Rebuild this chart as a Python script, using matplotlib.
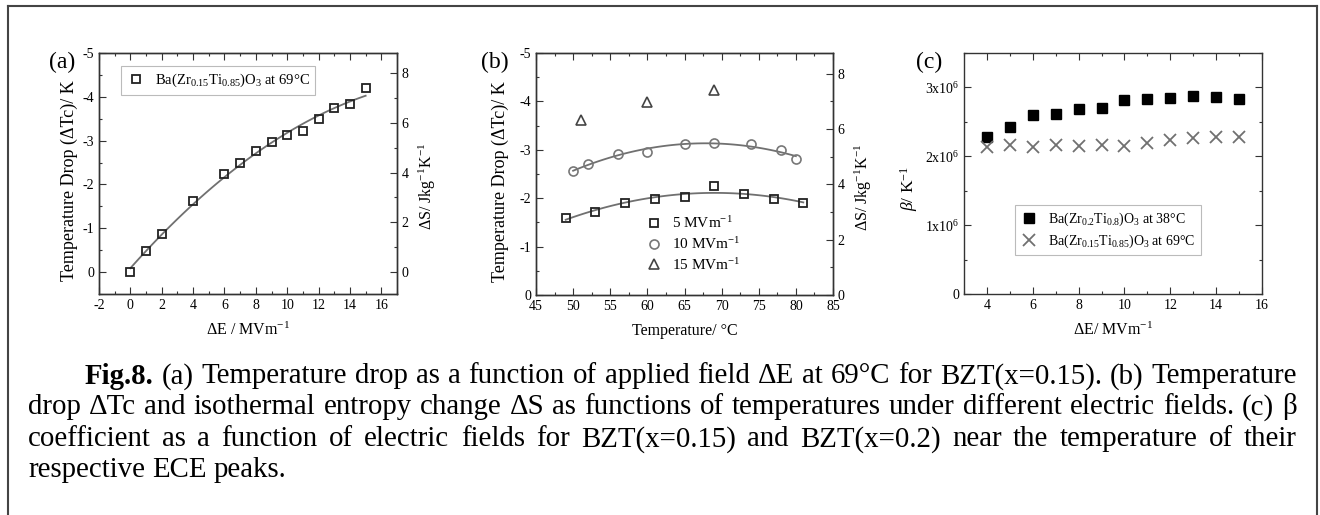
import numpy as np
import matplotlib
matplotlib.use('Agg')
import matplotlib.pyplot as plt
from matplotlib.lines import Line2D
from matplotlib.ticker import MultipleLocator, FuncFormatter

plt.rcParams['font.family'] = ['Liberation Serif', 'DejaVu Serif']
plt.rcParams['mathtext.fontset'] = 'custom'
plt.rcParams['mathtext.rm'] = 'Liberation Serif'
plt.rcParams['mathtext.it'] = 'Liberation Serif:italic'
plt.rcParams['mathtext.bf'] = 'Liberation Serif:bold'
plt.rcParams['axes.unicode_minus'] = False

# (a) temperature drop vs field at 69 C
E_a = [0, 1, 2, 4, 6, 7, 8, 9, 10, 11, 12, 13, 14, 15]
dT_a = [0, -0.48, -0.88, -1.63, -2.24, -2.49, -2.76, -2.96, -3.13, -3.21, -3.49, -3.75, -3.84, -4.19]

# (b) temperature drop vs temperature
T_5 = [49, 53, 57, 61, 65, 69, 73, 77, 81]
dT_5 = [-1.60, -1.71, -1.91, -1.98, -2.02, -2.26, -2.09, -1.98, -1.91]
T_10 = [50, 52, 56, 60, 65, 69, 74, 78, 80]
dT_10 = [-2.56, -2.71, -2.91, -2.96, -3.11, -3.14, -3.11, -2.99, -2.81]
T_15 = [51, 60, 69]
dT_15 = [-3.62, -3.98, -4.23]

# (c) beta coefficient (x1e6)
E_c = [4, 5, 6, 7, 8, 9, 10, 11, 12, 13, 14, 15]
beta_20 = [2.285, 2.42, 2.60, 2.61, 2.68, 2.70, 2.815, 2.825, 2.85, 2.88, 2.86, 2.83]
beta_15 = [2.13, 2.17, 2.14, 2.16, 2.15, 2.16, 2.15, 2.20, 2.24, 2.27, 2.28, 2.285]

W, H = 1320, 515
fig = plt.figure(figsize=(13.2, 5.15), dpi=100)

def rect(l, r, t, b):
    return [l / W, 1 - b / H, (r - l) / W, (b - t) / H]

spine_c = '#333333'
fit_c = '#707070'
tick_fs = 10

def style(ax):
    for s in ax.spines.values():
        s.set_color(spine_c)
        s.set_linewidth(1.0)
    ax.tick_params(which='both', direction='in', colors=spine_c, labelcolor='black',
                   labelsize=tick_fs, width=0.8)
    ax.tick_params(which='major', length=5)
    ax.tick_params(which='minor', length=2.5)

# ---------- (a) ----------
ax = fig.add_axes(rect(99, 397, 53, 294))
ax.plot(E_a, dT_a, 's', mfc='none', mec='#222222', mew=1.3, ms=6, ls='none',
        label='Ba(Zr$_{0.15}$Ti$_{0.85}$)O$_3$ at 69°C', zorder=3)
p = np.polyfit(E_a, dT_a, 2)
xf = np.linspace(min(E_a), max(E_a), 100)
ax.plot(xf, np.polyval(p, xf), color=fit_c, lw=1.3)
ax.set_xlim(-2, 17)
ax.set_ylim(0.5, -5)
ax.xaxis.set_major_locator(MultipleLocator(2))
ax.xaxis.set_minor_locator(MultipleLocator(1))
ax.yaxis.set_major_locator(MultipleLocator(1))
ax.yaxis.set_minor_locator(MultipleLocator(0.5))
ax.tick_params(which='both', top=True, right=False)
style(ax)
ax.set_xlabel('ΔE / MVm$^{-1}$', fontsize=11.5, labelpad=7)
ax.set_ylabel('Temperature Drop (ΔTc)/ K', fontsize=13)
ax.yaxis.set_label_coords(-0.072, 0.47)
leg = ax.legend(loc='upper left', bbox_to_anchor=(0.074, 0.945), borderaxespad=0,
                fontsize=10.5, frameon=True, fancybox=False, handletextpad=0.7,
                borderpad=0.4, handlelength=1.2)
leg.get_frame().set_edgecolor('#aaaaaa')
leg.get_frame().set_linewidth(0.8)
axr = ax.twinx()
axr.set_ylim(-0.88, 8.8)
axr.yaxis.set_major_locator(MultipleLocator(2))
axr.yaxis.set_minor_locator(MultipleLocator(1))
style(axr)
axr.set_ylabel('ΔS/ Jkg$^{-1}$K$^{-1}$', fontsize=11.5)
axr.yaxis.set_label_coords(1.067, 0.445)
fig.text(49 / W, 1 - 62 / H, '(a)', fontsize=17, va='center')

# ---------- (b) ----------
ax = fig.add_axes(rect(536, 833, 53, 295))
p5 = np.polyfit(T_5, dT_5, 2)
p10 = np.polyfit(T_10, dT_10, 2)
x5 = np.linspace(min(T_5), max(T_5), 100)
x10 = np.linspace(min(T_10), max(T_10), 100)
ax.plot(x5, np.polyval(p5, x5), color=fit_c, lw=1.3)
ax.plot(x10, np.polyval(p10, x10), color=fit_c, lw=1.3)
ax.plot(T_5, dT_5, 's', mfc='none', mec='#222222', mew=1.3, ms=6, ls='none',
        label='5 MVm$^{-1}$', zorder=3)
ax.plot(T_10, dT_10, 'o', mfc='none', mec='#777777', mew=1.2, ms=6.5, ls='none',
        label='10 MVm$^{-1}$', zorder=3)
ax.plot(T_15, dT_15, '^', mfc='none', mec='#444444', mew=1.2, ms=7, ls='none',
        label='15 MVm$^{-1}$', zorder=3)
ax.set_xlim(45, 85)
ax.set_ylim(0, -5)
ax.xaxis.set_major_locator(MultipleLocator(5))
ax.xaxis.set_minor_locator(MultipleLocator(2.5))
ax.yaxis.set_major_locator(MultipleLocator(1))
ax.yaxis.set_minor_locator(MultipleLocator(0.5))
ax.tick_params(which='both', top=True, right=False)
style(ax)
ax.set_xlabel('Temperature/ °C', fontsize=11.5, labelpad=7)
ax.set_ylabel('Temperature Drop (ΔTc)/ K', fontsize=13)
ax.yaxis.set_label_coords(-0.09, 0.47)
ax.legend(loc='upper left', bbox_to_anchor=(0.345, 0.355), borderaxespad=0,
          fontsize=11, frameon=False, handletextpad=0.6, labelspacing=0.32,
          handlelength=1.2)
axr = ax.twinx()
axr.set_ylim(0, 8.75)
axr.yaxis.set_major_locator(MultipleLocator(2))
axr.yaxis.set_minor_locator(MultipleLocator(1))
style(axr)
axr.set_ylabel('ΔS/ Jkg$^{-1}$K$^{-1}$', fontsize=11.5)
axr.yaxis.set_label_coords(1.067, 0.445)
fig.text(481 / W, 1 - 62 / H, '(b)', fontsize=17, va='center')

# ---------- (c) ----------
ax = fig.add_axes(rect(964, 1262, 53, 294))
ax.plot(E_c, [b * 1e6 for b in beta_20], 's', color='black', ms=6.5, ls='none',
        label='Ba(Zr$_{0.2}$Ti$_{0.8}$)O$_3$ at 38°C', zorder=3)
ax.plot(E_c, [b * 1e6 for b in beta_15], 'x', color='#707070', mew=1.3, ms=8.5, ls='none',
        label='Ba(Zr$_{0.15}$Ti$_{0.85}$)O$_3$ at 69°C', zorder=3)
ax.set_xlim(3, 16)
ax.set_ylim(0, 3.5e6)
ax.xaxis.set_major_locator(MultipleLocator(2))
ax.xaxis.set_minor_locator(MultipleLocator(1))
ax.yaxis.set_major_locator(MultipleLocator(1e6))
ax.yaxis.set_minor_locator(MultipleLocator(0.5e6))
ax.yaxis.set_major_formatter(FuncFormatter(
    lambda v, pos: '0' if v == 0 else '%dx10$^{6}$' % round(v / 1e6)))
ax.tick_params(which='both', top=True, right=True)
style(ax)
ax.set_xlabel('ΔE/ MVm$^{-1}$', fontsize=11.5, labelpad=7)
ax.set_ylabel(r'$\mathit{\beta}$/ K$^{-1}$', fontsize=12.5)
ax.yaxis.set_label_coords(-0.147, 0.44)
leg = ax.legend(loc='upper left', bbox_to_anchor=(0.171, 0.37), borderaxespad=0,
                fontsize=10, frameon=True, fancybox=False, handletextpad=0.8,
                borderpad=0.4, handlelength=1.2, labelspacing=0.35)
leg.get_frame().set_edgecolor('#aaaaaa')
leg.get_frame().set_linewidth(0.8)
fig.text(916 / W, 1 - 62 / H, '(c)', fontsize=17, va='center')

# ---------- frame ----------
fc = '#444444'
fig.add_artist(Line2D([8 / W, 8 / W], [0, 1 - 6 / H], color=fc, lw=1.5))
fig.add_artist(Line2D([8 / W, 1317 / W], [1 - 6 / H, 1 - 6 / H], color=fc, lw=1.5))
fig.add_artist(Line2D([1317 / W, 1317 / W], [0, 1 - 6 / H], color=fc, lw=1.5))

# ---------- caption (justified) ----------
lines = [
    (85, 373, True, 'Fig.8. (a) Temperature drop as a function of applied field ΔE at 69°C for BZT(x=0.15). (b) Temperature'),
    (28, 404, True, 'drop ΔTc and isothermal entropy change ΔS as functions of temperatures under different electric fields. (c) β'),
    (28, 436, True, 'coefficient as a function of electric fields for BZT(x=0.15) and BZT(x=0.2) near the temperature of their'),
    (28, 467, False, 'respective ECE peaks.'),
]
right_edge = 1297
fig.canvas.draw()
rend = fig.canvas.get_renderer()

def measure(s, fs, bold=False):
    t = fig.text(0, 0, s, fontsize=fs, fontweight='bold' if bold else 'normal')
    w = t.get_window_extent(rend).width
    t.remove()
    return w

# pick the caption size so the second (tightest) line fills the width naturally
ref_fs = 10.0
nat = measure(lines[1][3], ref_fs)
cap_fs = ref_fs * (right_edge - 28) / nat * 0.985

space = measure('a a', cap_fs) - measure('aa', cap_fs)
for x0, yc, justify, line in lines:
    words = line.split(' ')
    texts = []
    for w in words:
        bold = (w == 'Fig.8.')
        t = fig.text(0, 1 - yc / H, w, fontsize=cap_fs, va='center_baseline',
                     fontweight='bold' if bold else 'normal')
        texts.append(t)
    widths = [t.get_window_extent(rend).width for t in texts]
    if justify:
        gap = (right_edge - x0 - sum(widths)) / (len(words) - 1)
    else:
        gap = space
    x = x0
    for t, w in zip(texts, widths):
        t.set_x(x / W)
        x += w + gap

fig.savefig('out.png', dpi=100)
